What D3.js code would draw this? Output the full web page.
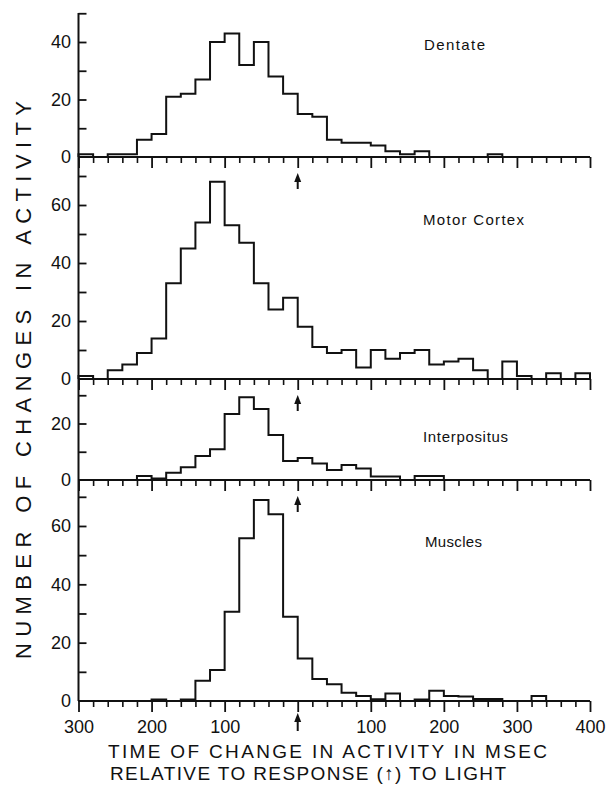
<!DOCTYPE html>
<html><head><meta charset="utf-8">
<script src="https://cdn.jsdelivr.net/npm/d3@7/dist/d3.min.js"></script>
<style>body{margin:0;background:#fff}svg{display:block}</style>
</head><body>
<svg id="c" width="611" height="790"></svg>
<script>
// ---- data ----
const binStarts = [-300,-280,-260,-240,-220,-200,-180,-160,-140,-120,-100,-80,-60,-40,-20,0,20,40,60,80,100,120,140,160,180,200,220,240,260,280,300,320,340,360,380];
const binWidth = 20;
const dentate      = [1,0,1,1,6,8,21,22,27,40,43,32,40,28,22,15,14,6,5,5,4,2,1,2,0,0,0,0,1,0,0,0,0,0,0];
const motorCortex  = [1,0,3,5,9,14,33,45,54,68,53,47,33,24,28,18,11,9,10,4,10,7,9,10,5,6,7,3,0,6,1,0,2,0,2];
const interpositus = [0,0,0,0,1.4,0.5,2.6,4.5,8.5,10.9,23.4,29.3,25.1,15.9,6.7,7.8,5.8,3.5,5.3,4.1,1.2,1.2,0,1.4,1.4,0,0,0,0,0,0,0,0,0,0];
const muscles      = [0,0,0,0,0,0.5,0,0.5,6.9,10.6,30.6,55.8,68.9,64,28.9,14.6,7.5,5.7,2.8,1.7,0.6,2.6,0,0.5,3.5,1.7,1.5,0.7,0.7,0,0,1.7,0,0,0];
const seriesList = [dentate, motorCortex, interpositus, muscles];
const panelNames = ["Dentate","Motor Cortex","Interpositus","Muscles"];
const yTicks = [[10,20,30,40,50],[10,20,30,40,50,60,70],[10,20,30],[10,20,30,40,50,60,70]];
const yTickLabels = [[0,20,40],[0,20,40,60],[0,20],[0,20,40,60]];
const xMajor = [-300,-200,-100,0,100,200,300,400];
const xTickLabels = ["300","200","100","","100","200","300","400"];
const xTitle1 = "TIME OF CHANGE IN ACTIVITY IN MSEC";
const xTitle2 = "RELATIVE TO RESPONSE (\u2191) TO LIGHT";
const yTitle = "NUMBER OF CHANGES IN ACTIVITY";

// ---- layout (pixels) ----
const layout = [
  {base:157, k:2.875, top:13,  lx:424, ly:50,  lw:61},
  {base:379, k:2.9,   top:157, lx:423, ly:225, lw:101},
  {base:480, k:2.825, top:379, lx:423, ly:442, lw:85},
  {base:701, k:2.917, top:480, lx:425, ly:547, lw:57}
];
const ink = "#111";
const font = "Liberation Sans, Arial, sans-serif";
const svg = d3.select("#c");
const x = d3.scaleLinear().domain([-300,400]).range([78.5,590]);
const axisX = x(-300);
const minorTicks = binStarts.concat([400]).filter(v => !xMajor.includes(v));

layout.forEach((L, i) => {
  const yMax = (L.base - L.top) / L.k;
  const y = d3.scaleLinear().domain([0, yMax]).range([L.base, L.top]);
  const g = svg.append("g");

  // y axis line
  g.append("line").attr("x1", axisX).attr("x2", axisX).attr("y1", L.top).attr("y2", L.base)
    .attr("stroke", ink).attr("stroke-width", 2);
  const ya = g.append("g").attr("transform", `translate(${axisX},0)`)
    .call(d3.axisRight(y).tickValues(yTicks[i]).tickSize(8).tickFormat(""));
  ya.select(".domain").remove();
  ya.selectAll("line").attr("stroke", ink).attr("stroke-width", 1.8);
  g.selectAll(".ylab").data(yTickLabels[i]).join("text")
    .attr("x", 71).attr("y", d => y(d)).attr("dy", "0.36em")
    .attr("text-anchor", "end").attr("font-family", font)
    .attr("font-size", 18).attr("fill", ink).text(d => d);

  // x baseline + ticks
  g.append("line").attr("x1", axisX).attr("x2", x(400)).attr("y1", L.base).attr("y2", L.base)
    .attr("stroke", ink).attr("stroke-width", 2);
  const minorAx = g.append("g").attr("transform", `translate(0,${L.base})`)
    .call(d3.axisBottom(x).tickValues(minorTicks).tickSize(6).tickFormat(""));
  minorAx.select(".domain").remove();
  minorAx.selectAll("line").attr("stroke", ink).attr("stroke-width", 1.6);
  const last = i === layout.length - 1;
  const majorAx = g.append("g").attr("transform", `translate(0,${L.base})`)
    .call(d3.axisBottom(x).tickValues(xMajor).tickSize(11).tickPadding(8)
      .tickFormat(last ? (d, j) => xTickLabels[j] : ""));
  majorAx.select(".domain").remove();
  majorAx.selectAll("line").attr("stroke", ink).attr("stroke-width", 1.8);
  majorAx.selectAll("text").attr("font-family", font)
    .attr("font-size", 18).attr("fill", ink);

  // histogram outline
  const series = seriesList[i];
  const pts = [[x(binStarts[0]), y(0)]];
  binStarts.forEach((b, j) => {
    pts.push([x(b), y(series[j])]);
    pts.push([x(b + binWidth), y(series[j])]);
  });
  pts.push([x(400), y(0)]);
  g.append("path").attr("d", d3.line()(pts)).attr("fill", "none")
    .attr("stroke", ink).attr("stroke-width", 2).attr("stroke-linejoin", "miter");

  // panel label
  g.append("text").attr("x", L.lx).attr("y", L.ly)
    .attr("font-family", font).attr("font-size", 15)
    .attr("textLength", L.lw).attr("lengthAdjust", "spacing")
    .attr("fill", ink).text(panelNames[i]);

  // response arrow below previous baseline
  if (i > 0) {
    const prev = layout[i - 1].base;
    drawArrow(x(0), prev + 16, prev + 32);
  }
});

function drawArrow(cx, yTop, yBot) {
  svg.append("line").attr("x1", cx).attr("x2", cx).attr("y1", yTop + 5).attr("y2", yBot)
    .attr("stroke", ink).attr("stroke-width", 2);
  svg.append("path").attr("d", `M${cx},${yTop} L${cx - 3.5},${yTop + 9} L${cx + 3.5},${yTop + 9} Z`)
    .attr("fill", ink);
}
// arrow as the "0" tick label
drawArrow(x(0), 713, 731);

// axis titles
svg.append("text").attr("x", 108).attr("y", 758)
  .attr("font-family", font).attr("font-size", 19)
  .attr("textLength", 439).attr("lengthAdjust", "spacing")
  .attr("fill", ink).text(xTitle1);
svg.append("text").attr("x", 110).attr("y", 780)
  .attr("font-family", font).attr("font-size", 19)
  .attr("textLength", 396).attr("lengthAdjust", "spacing")
  .attr("fill", ink).text(xTitle2);
svg.append("text").attr("transform", "translate(31,380) rotate(-90)")
  .attr("text-anchor", "middle")
  .attr("font-family", font).attr("font-size", 22)
  .attr("textLength", 558).attr("lengthAdjust", "spacing")
  .attr("fill", ink).text(yTitle);
</script>
</body></html>
